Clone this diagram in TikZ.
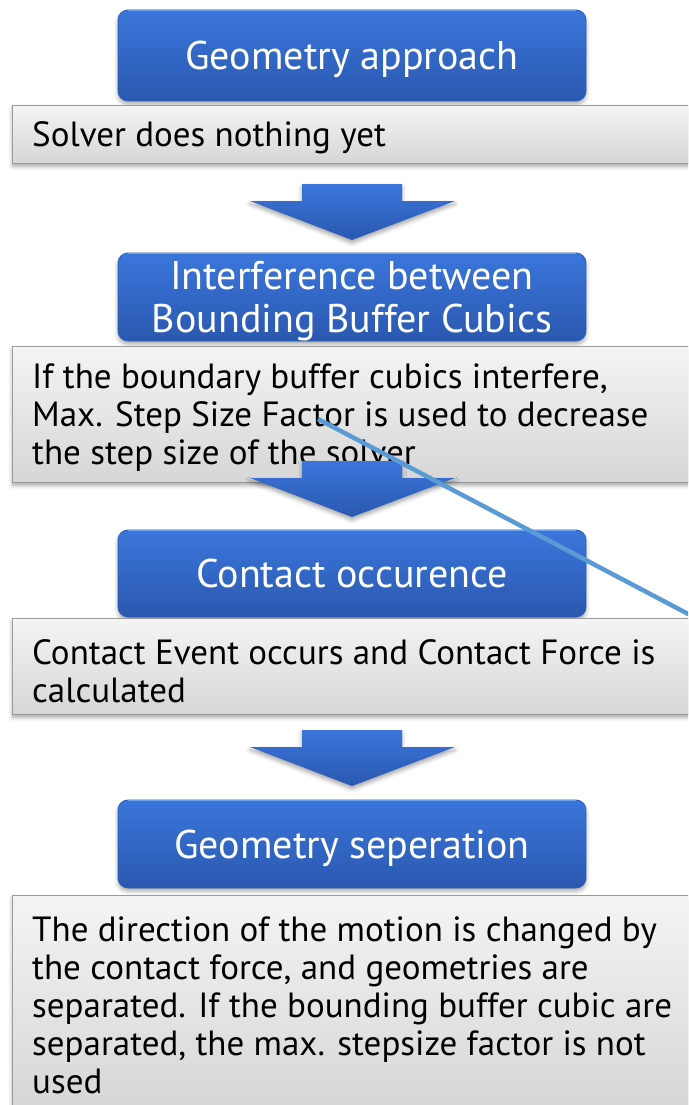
\documentclass[tikz,border=0pt]{standalone}
\usepackage{fontspec}
\setmainfont{PT Sans}
\usetikzlibrary{shadows.blur}
\definecolor{blueTop}{HTML}{3B76DB}
\definecolor{blueBot}{HTML}{2A58B0}
\definecolor{blueEdge}{HTML}{2C5DB8}
\definecolor{blueHi}{HTML}{6FA3F0}
\definecolor{grayTop}{HTML}{F4F4F4}
\definecolor{grayBot}{HTML}{D6D6D6}
\definecolor{grayEdge}{HTML}{9A9A9A}
\definecolor{lineBlue}{HTML}{5B9BD5}
\tikzset{
  bluebox/.style={rounded corners=10pt, minimum width=468pt, inner sep=0pt,
    top color=blueTop, bottom color=blueBot, draw=blueEdge, line width=0.8pt,
    text=white, align=center, font=\fontsize{40}{43}\selectfont, text depth=0pt,
    blur shadow={shadow xshift=0pt, shadow yshift=-3pt, shadow blur radius=4pt, shadow opacity=35}},
  graybox/.style={anchor=north west, minimum width=700pt, inner sep=0pt,
    top color=grayTop, bottom color=grayBot, draw=grayEdge, line width=0.8pt,
    blur shadow={shadow xshift=0pt, shadow yshift=-3pt, shadow blur radius=4pt, shadow opacity=35}},
  graytext/.style={anchor=west, align=left, inner sep=0pt, text=black,
    font=\fontsize{35}{38}\selectfont},
  arrowfill/.style={top color=blueTop, bottom color=blueBot,
    blur shadow={shadow xshift=0pt, shadow yshift=-3pt, shadow blur radius=4pt, shadow opacity=35}},
  tophi/.style={draw=blueHi, line width=1.5pt},
  connector/.style={draw=lineBlue, line width=4.5pt}
}
\begin{document}
\begin{tikzpicture}[x=1pt,y=-1pt]
\useasboundingbox (0,0) rectangle (688,1105);
\clip (0,0) rectangle (688,1105);
% step 1
\node[bluebox, minimum height=91pt] (b1) at (352,55.5) {Geometry approach};
\node[graybox, minimum height=58pt] (g1) at (12,105) {};
\node[graytext] (t1) at (32,138) {Solver does nothing yet};
% step 2
\node[bluebox, minimum height=88pt] (b2) at (352,297) {Interference between\\Bounding Buffer Cubics};
\node[graybox, minimum height=136pt] (g2) at (12,346) {};
\node[graytext] (t2) at (32,418) {If the boundary buffer cubics interfere,\\Max. Step Size Factor is used to decrease\\the step size of the solver};
% step 3
\node[bluebox, minimum height=87pt] (b3) at (352,573.5) {Contact occurence};
\node[graybox, minimum height=96pt] (g3) at (12,618) {};
\node[graytext] (t3) at (32,671) {Contact Event occurs and Contact Force is\\calculated};
% step 4
\node[bluebox, minimum height=88pt] (b4) at (352,844) {Geometry seperation};
\node[graybox, minimum height=215pt] (g4) at (12,895) {};
\node[graytext] (t4) at (32,1005) {The direction of the motion is changed by\\the contact force, and geometries are\\separated. If the bounding buffer cubic are\\separated, the max. stepsize factor is not\\used};
% light top edges of the blue boxes
\foreach \b in {b1,b2,b3,b4}{
  \draw[tophi] ([xshift=10pt,yshift=-1pt]\b.north west) -- ([xshift=-10pt,yshift=-1pt]\b.north east);
}
% block arrows
\foreach \yt in {184,461,730}{
  \path[arrowfill] (302,\yt) -- (402,\yt) -- (402,{\yt+17}) -- (455,{\yt+17})
    -- (352,{\yt+56}) -- (250,{\yt+17}) -- (302,{\yt+17}) -- cycle;
}
% free line
\coordinate (ls) at (318,419);
\coordinate (le) at (692,616);
\draw[connector] (ls) -- (le);
\end{tikzpicture}
\end{document}
